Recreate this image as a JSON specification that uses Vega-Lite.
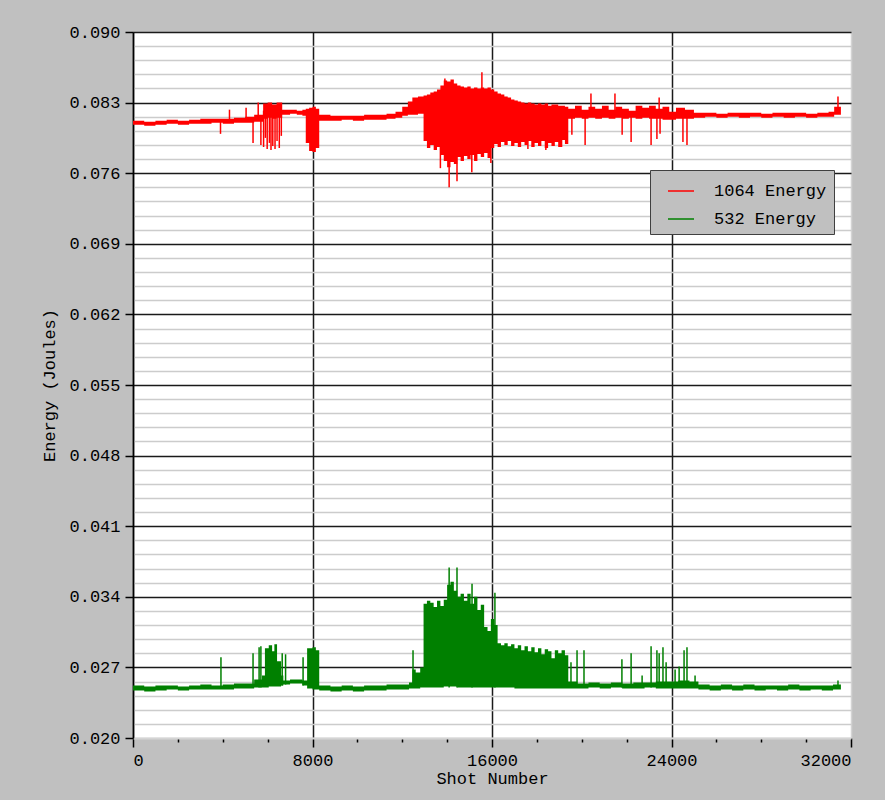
{
  "$schema": "https://vega.github.io/schema/vega-lite/v6.json",
  "width": 718,
  "height": 706,
  "autosize": "none",
  "padding": {"left": 133, "top": 32, "right": 34, "bottom": 62},
  "background": "#C0C0C0",
  "config": {
    "view": {"fill": "white", "stroke": null},
    "font": "Liberation Mono",
    "axis": {"labelFont": "Liberation Mono", "labelFontSize": 17, "labelColor": "#000000", "titleFont": "Liberation Mono", "titleFontSize": 17, "titleFontWeight": "normal", "titleColor": "#000000", "labelOverlap": false}
  },
  "datasets": {
    "env": [
      {"shot": 0, "lo": 0.0808, "hi": 0.0812, "series": "1064 Energy"},
      {"shot": 500, "lo": 0.0807, "hi": 0.0811, "series": "1064 Energy"},
      {"shot": 1000, "lo": 0.0808, "hi": 0.0812, "series": "1064 Energy"},
      {"shot": 1500, "lo": 0.0809, "hi": 0.0813, "series": "1064 Energy"},
      {"shot": 2000, "lo": 0.0808, "hi": 0.0812, "series": "1064 Energy"},
      {"shot": 2500, "lo": 0.0809, "hi": 0.0813, "series": "1064 Energy"},
      {"shot": 3000, "lo": 0.0809, "hi": 0.0814, "series": "1064 Energy"},
      {"shot": 3500, "lo": 0.081, "hi": 0.0814, "series": "1064 Energy"},
      {"shot": 4000, "lo": 0.0809, "hi": 0.0814, "series": "1064 Energy"},
      {"shot": 4500, "lo": 0.081, "hi": 0.0815, "series": "1064 Energy"},
      {"shot": 5000, "lo": 0.081, "hi": 0.0816, "series": "1064 Energy"},
      {"shot": 5400, "lo": 0.0811, "hi": 0.0818, "series": "1064 Energy"},
      {"shot": 5800, "lo": 0.0814, "hi": 0.0829, "series": "1064 Energy"},
      {"shot": 6000, "lo": 0.0815, "hi": 0.083, "series": "1064 Energy"},
      {"shot": 6200, "lo": 0.0814, "hi": 0.0828, "series": "1064 Energy"},
      {"shot": 6400, "lo": 0.0815, "hi": 0.083, "series": "1064 Energy"},
      {"shot": 6650, "lo": 0.0818, "hi": 0.0823, "series": "1064 Energy"},
      {"shot": 7000, "lo": 0.0819, "hi": 0.0823, "series": "1064 Energy"},
      {"shot": 7300, "lo": 0.0818, "hi": 0.0822, "series": "1064 Energy"},
      {"shot": 7550, "lo": 0.0817, "hi": 0.0823, "series": "1064 Energy"},
      {"shot": 7700, "lo": 0.079, "hi": 0.0824, "series": "1064 Energy"},
      {"shot": 7850, "lo": 0.0782, "hi": 0.0825, "series": "1064 Energy"},
      {"shot": 8000, "lo": 0.0781, "hi": 0.0826, "series": "1064 Energy"},
      {"shot": 8150, "lo": 0.0785, "hi": 0.0824, "series": "1064 Energy"},
      {"shot": 8300, "lo": 0.0812, "hi": 0.0818, "series": "1064 Energy"},
      {"shot": 8800, "lo": 0.0812, "hi": 0.0817, "series": "1064 Energy"},
      {"shot": 9300, "lo": 0.0813, "hi": 0.0817, "series": "1064 Energy"},
      {"shot": 9800, "lo": 0.0812, "hi": 0.0817, "series": "1064 Energy"},
      {"shot": 10300, "lo": 0.0813, "hi": 0.0818, "series": "1064 Energy"},
      {"shot": 10800, "lo": 0.0813, "hi": 0.0818, "series": "1064 Energy"},
      {"shot": 11300, "lo": 0.0814, "hi": 0.0819, "series": "1064 Energy"},
      {"shot": 11700, "lo": 0.0815, "hi": 0.0821, "series": "1064 Energy"},
      {"shot": 12000, "lo": 0.0817, "hi": 0.0826, "series": "1064 Energy"},
      {"shot": 12250, "lo": 0.0818, "hi": 0.0831, "series": "1064 Energy"},
      {"shot": 12450, "lo": 0.0818, "hi": 0.0835, "series": "1064 Energy"},
      {"shot": 12700, "lo": 0.0819, "hi": 0.0836, "series": "1064 Energy"},
      {"shot": 12950, "lo": 0.0792, "hi": 0.0837, "series": "1064 Energy"},
      {"shot": 13100, "lo": 0.0785, "hi": 0.0838, "series": "1064 Energy"},
      {"shot": 13250, "lo": 0.0788, "hi": 0.084, "series": "1064 Energy"},
      {"shot": 13400, "lo": 0.0783, "hi": 0.0841, "series": "1064 Energy"},
      {"shot": 13550, "lo": 0.0786, "hi": 0.0843, "series": "1064 Energy"},
      {"shot": 13700, "lo": 0.0778, "hi": 0.0847, "series": "1064 Energy"},
      {"shot": 13850, "lo": 0.0772, "hi": 0.0852, "series": "1064 Energy"},
      {"shot": 14000, "lo": 0.0766, "hi": 0.0851, "series": "1064 Energy"},
      {"shot": 14150, "lo": 0.0771, "hi": 0.0853, "series": "1064 Energy"},
      {"shot": 14300, "lo": 0.0769, "hi": 0.0849, "series": "1064 Energy"},
      {"shot": 14450, "lo": 0.0776, "hi": 0.0847, "series": "1064 Energy"},
      {"shot": 14600, "lo": 0.0772, "hi": 0.0846, "series": "1064 Energy"},
      {"shot": 14750, "lo": 0.0777, "hi": 0.0845, "series": "1064 Energy"},
      {"shot": 14900, "lo": 0.0774, "hi": 0.0846, "series": "1064 Energy"},
      {"shot": 15050, "lo": 0.0778, "hi": 0.0844, "series": "1064 Energy"},
      {"shot": 15200, "lo": 0.0772, "hi": 0.0845, "series": "1064 Energy"},
      {"shot": 15350, "lo": 0.0779, "hi": 0.0844, "series": "1064 Energy"},
      {"shot": 15500, "lo": 0.0776, "hi": 0.0845, "series": "1064 Energy"},
      {"shot": 15650, "lo": 0.078, "hi": 0.0844, "series": "1064 Energy"},
      {"shot": 15800, "lo": 0.0775, "hi": 0.0845, "series": "1064 Energy"},
      {"shot": 15950, "lo": 0.0785, "hi": 0.0843, "series": "1064 Energy"},
      {"shot": 16100, "lo": 0.0789, "hi": 0.0841, "series": "1064 Energy"},
      {"shot": 16250, "lo": 0.0786, "hi": 0.0839, "series": "1064 Energy"},
      {"shot": 16400, "lo": 0.0791, "hi": 0.0838, "series": "1064 Energy"},
      {"shot": 16550, "lo": 0.0788, "hi": 0.0836, "series": "1064 Energy"},
      {"shot": 16700, "lo": 0.0792, "hi": 0.0835, "series": "1064 Energy"},
      {"shot": 16850, "lo": 0.0787, "hi": 0.0833, "series": "1064 Energy"},
      {"shot": 17000, "lo": 0.079, "hi": 0.0832, "series": "1064 Energy"},
      {"shot": 17150, "lo": 0.0786, "hi": 0.0831, "series": "1064 Energy"},
      {"shot": 17300, "lo": 0.0791, "hi": 0.083, "series": "1064 Energy"},
      {"shot": 17450, "lo": 0.0788, "hi": 0.0829, "series": "1064 Energy"},
      {"shot": 17600, "lo": 0.0792, "hi": 0.083, "series": "1064 Energy"},
      {"shot": 17750, "lo": 0.0786, "hi": 0.0829, "series": "1064 Energy"},
      {"shot": 17900, "lo": 0.079, "hi": 0.0828, "series": "1064 Energy"},
      {"shot": 18050, "lo": 0.0787, "hi": 0.0829, "series": "1064 Energy"},
      {"shot": 18200, "lo": 0.0792, "hi": 0.0828, "series": "1064 Energy"},
      {"shot": 18350, "lo": 0.0785, "hi": 0.0829, "series": "1064 Energy"},
      {"shot": 18500, "lo": 0.079, "hi": 0.0827, "series": "1064 Energy"},
      {"shot": 18650, "lo": 0.0787, "hi": 0.0828, "series": "1064 Energy"},
      {"shot": 18800, "lo": 0.0791, "hi": 0.0828, "series": "1064 Energy"},
      {"shot": 18950, "lo": 0.0786, "hi": 0.0827, "series": "1064 Energy"},
      {"shot": 19100, "lo": 0.0793, "hi": 0.0827, "series": "1064 Energy"},
      {"shot": 19250, "lo": 0.0789, "hi": 0.0826, "series": "1064 Energy"},
      {"shot": 19400, "lo": 0.0814, "hi": 0.0824, "series": "1064 Energy"},
      {"shot": 19700, "lo": 0.0815, "hi": 0.0827, "series": "1064 Energy"},
      {"shot": 20000, "lo": 0.0814, "hi": 0.0823, "series": "1064 Energy"},
      {"shot": 20300, "lo": 0.0815, "hi": 0.0826, "series": "1064 Energy"},
      {"shot": 20600, "lo": 0.0814, "hi": 0.0824, "series": "1064 Energy"},
      {"shot": 20900, "lo": 0.0815, "hi": 0.0827, "series": "1064 Energy"},
      {"shot": 21200, "lo": 0.0814, "hi": 0.0823, "series": "1064 Energy"},
      {"shot": 21500, "lo": 0.0815, "hi": 0.0826, "series": "1064 Energy"},
      {"shot": 21800, "lo": 0.0814, "hi": 0.0824, "series": "1064 Energy"},
      {"shot": 22100, "lo": 0.0815, "hi": 0.0822, "series": "1064 Energy"},
      {"shot": 22400, "lo": 0.0814, "hi": 0.0827, "series": "1064 Energy"},
      {"shot": 22700, "lo": 0.0815, "hi": 0.0825, "series": "1064 Energy"},
      {"shot": 23000, "lo": 0.0814, "hi": 0.0827, "series": "1064 Energy"},
      {"shot": 23300, "lo": 0.0814, "hi": 0.0824, "series": "1064 Energy"},
      {"shot": 23600, "lo": 0.0813, "hi": 0.0826, "series": "1064 Energy"},
      {"shot": 23900, "lo": 0.0813, "hi": 0.0821, "series": "1064 Energy"},
      {"shot": 24200, "lo": 0.0814, "hi": 0.0825, "series": "1064 Energy"},
      {"shot": 24600, "lo": 0.0814, "hi": 0.0823, "series": "1064 Energy"},
      {"shot": 25000, "lo": 0.0815, "hi": 0.082, "series": "1064 Energy"},
      {"shot": 25500, "lo": 0.0816, "hi": 0.082, "series": "1064 Energy"},
      {"shot": 26000, "lo": 0.0815, "hi": 0.0819, "series": "1064 Energy"},
      {"shot": 26500, "lo": 0.0816, "hi": 0.082, "series": "1064 Energy"},
      {"shot": 27000, "lo": 0.0815, "hi": 0.082, "series": "1064 Energy"},
      {"shot": 27500, "lo": 0.0816, "hi": 0.082, "series": "1064 Energy"},
      {"shot": 28000, "lo": 0.0815, "hi": 0.0819, "series": "1064 Energy"},
      {"shot": 28500, "lo": 0.0816, "hi": 0.082, "series": "1064 Energy"},
      {"shot": 29000, "lo": 0.0815, "hi": 0.082, "series": "1064 Energy"},
      {"shot": 29500, "lo": 0.0816, "hi": 0.082, "series": "1064 Energy"},
      {"shot": 30000, "lo": 0.0815, "hi": 0.0819, "series": "1064 Energy"},
      {"shot": 30500, "lo": 0.0816, "hi": 0.082, "series": "1064 Energy"},
      {"shot": 31000, "lo": 0.0816, "hi": 0.0821, "series": "1064 Energy"},
      {"shot": 31250, "lo": 0.0818, "hi": 0.0826, "series": "1064 Energy"},
      {"shot": 31550, "lo": 0.0818, "hi": 0.0827, "series": "1064 Energy"},

      {"shot": 0, "lo": 0.0247, "hi": 0.0252, "series": "532 Energy"},
      {"shot": 500, "lo": 0.0246, "hi": 0.0251, "series": "532 Energy"},
      {"shot": 1000, "lo": 0.0247, "hi": 0.0252, "series": "532 Energy"},
      {"shot": 1500, "lo": 0.0248, "hi": 0.0252, "series": "532 Energy"},
      {"shot": 2000, "lo": 0.0247, "hi": 0.0251, "series": "532 Energy"},
      {"shot": 2500, "lo": 0.0248, "hi": 0.0252, "series": "532 Energy"},
      {"shot": 3000, "lo": 0.0248, "hi": 0.0253, "series": "532 Energy"},
      {"shot": 3500, "lo": 0.0248, "hi": 0.0252, "series": "532 Energy"},
      {"shot": 4000, "lo": 0.0248, "hi": 0.0253, "series": "532 Energy"},
      {"shot": 4500, "lo": 0.0249, "hi": 0.0254, "series": "532 Energy"},
      {"shot": 5000, "lo": 0.0249, "hi": 0.0254, "series": "532 Energy"},
      {"shot": 5400, "lo": 0.025, "hi": 0.0258, "series": "532 Energy"},
      {"shot": 5750, "lo": 0.025, "hi": 0.0262, "series": "532 Energy"},
      {"shot": 5880, "lo": 0.025, "hi": 0.0289, "series": "532 Energy"},
      {"shot": 6050, "lo": 0.0251, "hi": 0.0292, "series": "532 Energy"},
      {"shot": 6200, "lo": 0.0251, "hi": 0.0286, "series": "532 Energy"},
      {"shot": 6300, "lo": 0.0251, "hi": 0.0293, "series": "532 Energy"},
      {"shot": 6420, "lo": 0.0251, "hi": 0.0276, "series": "532 Energy"},
      {"shot": 6600, "lo": 0.0252, "hi": 0.0262, "series": "532 Energy"},
      {"shot": 6700, "lo": 0.0253, "hi": 0.0257, "series": "532 Energy"},
      {"shot": 7000, "lo": 0.0254, "hi": 0.0258, "series": "532 Energy"},
      {"shot": 7300, "lo": 0.0254, "hi": 0.0258, "series": "532 Energy"},
      {"shot": 7550, "lo": 0.0252, "hi": 0.0257, "series": "532 Energy"},
      {"shot": 7760, "lo": 0.0249, "hi": 0.0289, "series": "532 Energy"},
      {"shot": 8000, "lo": 0.0248, "hi": 0.029, "series": "532 Energy"},
      {"shot": 8150, "lo": 0.0248, "hi": 0.0287, "series": "532 Energy"},
      {"shot": 8300, "lo": 0.0247, "hi": 0.0252, "series": "532 Energy"},
      {"shot": 8800, "lo": 0.0246, "hi": 0.0251, "series": "532 Energy"},
      {"shot": 9300, "lo": 0.0247, "hi": 0.0252, "series": "532 Energy"},
      {"shot": 9800, "lo": 0.0246, "hi": 0.0251, "series": "532 Energy"},
      {"shot": 10300, "lo": 0.0247, "hi": 0.0252, "series": "532 Energy"},
      {"shot": 10800, "lo": 0.0247, "hi": 0.0252, "series": "532 Energy"},
      {"shot": 11300, "lo": 0.0248, "hi": 0.0253, "series": "532 Energy"},
      {"shot": 11800, "lo": 0.0248, "hi": 0.0253, "series": "532 Energy"},
      {"shot": 12300, "lo": 0.0249, "hi": 0.0255, "series": "532 Energy"},
      {"shot": 12450, "lo": 0.0249, "hi": 0.0268, "series": "532 Energy"},
      {"shot": 12600, "lo": 0.0249, "hi": 0.0265, "series": "532 Energy"},
      {"shot": 12800, "lo": 0.025, "hi": 0.027, "series": "532 Energy"},
      {"shot": 12950, "lo": 0.025, "hi": 0.0333, "series": "532 Energy"},
      {"shot": 13100, "lo": 0.025, "hi": 0.0336, "series": "532 Energy"},
      {"shot": 13250, "lo": 0.025, "hi": 0.0334, "series": "532 Energy"},
      {"shot": 13400, "lo": 0.025, "hi": 0.033, "series": "532 Energy"},
      {"shot": 13550, "lo": 0.025, "hi": 0.0336, "series": "532 Energy"},
      {"shot": 13700, "lo": 0.025, "hi": 0.0331, "series": "532 Energy"},
      {"shot": 13850, "lo": 0.0251, "hi": 0.0337, "series": "532 Energy"},
      {"shot": 14000, "lo": 0.0251, "hi": 0.0352, "series": "532 Energy"},
      {"shot": 14150, "lo": 0.0251, "hi": 0.0355, "series": "532 Energy"},
      {"shot": 14300, "lo": 0.0251, "hi": 0.0346, "series": "532 Energy"},
      {"shot": 14450, "lo": 0.025, "hi": 0.034, "series": "532 Energy"},
      {"shot": 14600, "lo": 0.025, "hi": 0.0343, "series": "532 Energy"},
      {"shot": 14750, "lo": 0.025, "hi": 0.0336, "series": "532 Energy"},
      {"shot": 14900, "lo": 0.025, "hi": 0.0343, "series": "532 Energy"},
      {"shot": 15050, "lo": 0.025, "hi": 0.0333, "series": "532 Energy"},
      {"shot": 15200, "lo": 0.025, "hi": 0.034, "series": "532 Energy"},
      {"shot": 15350, "lo": 0.025, "hi": 0.0327, "series": "532 Energy"},
      {"shot": 15500, "lo": 0.025, "hi": 0.0332, "series": "532 Energy"},
      {"shot": 15650, "lo": 0.025, "hi": 0.031, "series": "532 Energy"},
      {"shot": 15800, "lo": 0.025, "hi": 0.0306, "series": "532 Energy"},
      {"shot": 15950, "lo": 0.025, "hi": 0.0318, "series": "532 Energy"},
      {"shot": 16100, "lo": 0.025, "hi": 0.0312, "series": "532 Energy"},
      {"shot": 16250, "lo": 0.025, "hi": 0.0294, "series": "532 Energy"},
      {"shot": 16400, "lo": 0.025, "hi": 0.0292, "series": "532 Energy"},
      {"shot": 16550, "lo": 0.025, "hi": 0.0294, "series": "532 Energy"},
      {"shot": 16700, "lo": 0.025, "hi": 0.0291, "series": "532 Energy"},
      {"shot": 16850, "lo": 0.025, "hi": 0.0293, "series": "532 Energy"},
      {"shot": 17000, "lo": 0.0249, "hi": 0.0289, "series": "532 Energy"},
      {"shot": 17150, "lo": 0.0249, "hi": 0.0292, "series": "532 Energy"},
      {"shot": 17300, "lo": 0.0249, "hi": 0.0287, "series": "532 Energy"},
      {"shot": 17450, "lo": 0.0249, "hi": 0.0291, "series": "532 Energy"},
      {"shot": 17600, "lo": 0.0249, "hi": 0.0286, "series": "532 Energy"},
      {"shot": 17750, "lo": 0.0249, "hi": 0.029, "series": "532 Energy"},
      {"shot": 17900, "lo": 0.0249, "hi": 0.0285, "series": "532 Energy"},
      {"shot": 18050, "lo": 0.0249, "hi": 0.0289, "series": "532 Energy"},
      {"shot": 18200, "lo": 0.0249, "hi": 0.0283, "series": "532 Energy"},
      {"shot": 18350, "lo": 0.0249, "hi": 0.0288, "series": "532 Energy"},
      {"shot": 18500, "lo": 0.0249, "hi": 0.0286, "series": "532 Energy"},
      {"shot": 18650, "lo": 0.0249, "hi": 0.0279, "series": "532 Energy"},
      {"shot": 18800, "lo": 0.0249, "hi": 0.0287, "series": "532 Energy"},
      {"shot": 18950, "lo": 0.0249, "hi": 0.0284, "series": "532 Energy"},
      {"shot": 19100, "lo": 0.0249, "hi": 0.0287, "series": "532 Energy"},
      {"shot": 19250, "lo": 0.0249, "hi": 0.0282, "series": "532 Energy"},
      {"shot": 19400, "lo": 0.0249, "hi": 0.0256, "series": "532 Energy"},
      {"shot": 19800, "lo": 0.0249, "hi": 0.0254, "series": "532 Energy"},
      {"shot": 20300, "lo": 0.025, "hi": 0.0255, "series": "532 Energy"},
      {"shot": 20800, "lo": 0.0249, "hi": 0.0254, "series": "532 Energy"},
      {"shot": 21300, "lo": 0.025, "hi": 0.0255, "series": "532 Energy"},
      {"shot": 21800, "lo": 0.0249, "hi": 0.0254, "series": "532 Energy"},
      {"shot": 22300, "lo": 0.0249, "hi": 0.0255, "series": "532 Energy"},
      {"shot": 22800, "lo": 0.025, "hi": 0.0255, "series": "532 Energy"},
      {"shot": 23300, "lo": 0.0249, "hi": 0.0256, "series": "532 Energy"},
      {"shot": 23800, "lo": 0.0249, "hi": 0.0256, "series": "532 Energy"},
      {"shot": 24300, "lo": 0.0249, "hi": 0.0257, "series": "532 Energy"},
      {"shot": 24800, "lo": 0.0249, "hi": 0.0256, "series": "532 Energy"},
      {"shot": 25200, "lo": 0.0248, "hi": 0.0253, "series": "532 Energy"},
      {"shot": 25700, "lo": 0.0247, "hi": 0.0252, "series": "532 Energy"},
      {"shot": 26200, "lo": 0.0248, "hi": 0.0253, "series": "532 Energy"},
      {"shot": 26700, "lo": 0.0247, "hi": 0.0252, "series": "532 Energy"},
      {"shot": 27200, "lo": 0.0248, "hi": 0.0253, "series": "532 Energy"},
      {"shot": 27700, "lo": 0.0247, "hi": 0.0252, "series": "532 Energy"},
      {"shot": 28200, "lo": 0.0248, "hi": 0.0252, "series": "532 Energy"},
      {"shot": 28700, "lo": 0.0247, "hi": 0.0252, "series": "532 Energy"},
      {"shot": 29200, "lo": 0.0248, "hi": 0.0253, "series": "532 Energy"},
      {"shot": 29700, "lo": 0.0247, "hi": 0.0252, "series": "532 Energy"},
      {"shot": 30200, "lo": 0.0248, "hi": 0.0252, "series": "532 Energy"},
      {"shot": 30700, "lo": 0.0247, "hi": 0.0252, "series": "532 Energy"},
      {"shot": 31200, "lo": 0.0248, "hi": 0.0253, "series": "532 Energy"},
      {"shot": 31550, "lo": 0.0249, "hi": 0.0257, "series": "532 Energy"}
    ],
    "spikes": [
      {"shot": 3900, "lo": 0.0799, "hi": 0.0811, "series": "1064 Energy"},
      {"shot": 4300, "lo": 0.0811, "hi": 0.0823, "series": "1064 Energy"},
      {"shot": 5040, "lo": 0.0811, "hi": 0.0825, "series": "1064 Energy"},
      {"shot": 5350, "lo": 0.079, "hi": 0.0815, "series": "1064 Energy"},
      {"shot": 5580, "lo": 0.0812, "hi": 0.083, "series": "1064 Energy"},
      {"shot": 5700, "lo": 0.0788, "hi": 0.0815, "series": "1064 Energy"},
      {"shot": 5820, "lo": 0.0786, "hi": 0.0822, "series": "1064 Energy"},
      {"shot": 5900, "lo": 0.0795, "hi": 0.0822, "series": "1064 Energy"},
      {"shot": 5980, "lo": 0.0784, "hi": 0.0822, "series": "1064 Energy"},
      {"shot": 6080, "lo": 0.079, "hi": 0.0822, "series": "1064 Energy"},
      {"shot": 6150, "lo": 0.0783, "hi": 0.0822, "series": "1064 Energy"},
      {"shot": 6230, "lo": 0.0787, "hi": 0.0822, "series": "1064 Energy"},
      {"shot": 6330, "lo": 0.0784, "hi": 0.0822, "series": "1064 Energy"},
      {"shot": 6420, "lo": 0.0792, "hi": 0.0822, "series": "1064 Energy"},
      {"shot": 6520, "lo": 0.0785, "hi": 0.0822, "series": "1064 Energy"},
      {"shot": 6610, "lo": 0.0797, "hi": 0.0822, "series": "1064 Energy"},
      {"shot": 13700, "lo": 0.0765, "hi": 0.08, "series": "1064 Energy"},
      {"shot": 13900, "lo": 0.084, "hi": 0.0854, "series": "1064 Energy"},
      {"shot": 14090, "lo": 0.0746, "hi": 0.079, "series": "1064 Energy"},
      {"shot": 14440, "lo": 0.0752, "hi": 0.079, "series": "1064 Energy"},
      {"shot": 15100, "lo": 0.0761, "hi": 0.079, "series": "1064 Energy"},
      {"shot": 15550, "lo": 0.083, "hi": 0.086, "series": "1064 Energy"},
      {"shot": 15950, "lo": 0.077, "hi": 0.079, "series": "1064 Energy"},
      {"shot": 17600, "lo": 0.0784, "hi": 0.082, "series": "1064 Energy"},
      {"shot": 18400, "lo": 0.0783, "hi": 0.082, "series": "1064 Energy"},
      {"shot": 19100, "lo": 0.0786, "hi": 0.0826, "series": "1064 Energy"},
      {"shot": 19560, "lo": 0.0798, "hi": 0.0818, "series": "1064 Energy"},
      {"shot": 20150, "lo": 0.0788, "hi": 0.0818, "series": "1064 Energy"},
      {"shot": 20410, "lo": 0.0818, "hi": 0.0839, "series": "1064 Energy"},
      {"shot": 21480, "lo": 0.0818, "hi": 0.0839, "series": "1064 Energy"},
      {"shot": 21800, "lo": 0.0798, "hi": 0.0818, "series": "1064 Energy"},
      {"shot": 22200, "lo": 0.0791, "hi": 0.0818, "series": "1064 Energy"},
      {"shot": 23090, "lo": 0.0788, "hi": 0.0818, "series": "1064 Energy"},
      {"shot": 23350, "lo": 0.0794, "hi": 0.0818, "series": "1064 Energy"},
      {"shot": 23450, "lo": 0.0818, "hi": 0.0835, "series": "1064 Energy"},
      {"shot": 23490, "lo": 0.0799, "hi": 0.0818, "series": "1064 Energy"},
      {"shot": 24510, "lo": 0.0791, "hi": 0.0818, "series": "1064 Energy"},
      {"shot": 24690, "lo": 0.0788, "hi": 0.0818, "series": "1064 Energy"},
      {"shot": 31420, "lo": 0.082, "hi": 0.0836, "series": "1064 Energy"},

      {"shot": 3920, "lo": 0.025, "hi": 0.028, "series": "532 Energy"},
      {"shot": 5350, "lo": 0.025, "hi": 0.0284, "series": "532 Energy"},
      {"shot": 5620, "lo": 0.025, "hi": 0.029, "series": "532 Energy"},
      {"shot": 5700, "lo": 0.025, "hi": 0.0291, "series": "532 Energy"},
      {"shot": 6650, "lo": 0.0252, "hi": 0.0284, "series": "532 Energy"},
      {"shot": 6800, "lo": 0.0253, "hi": 0.0283, "series": "532 Energy"},
      {"shot": 7580, "lo": 0.0252, "hi": 0.028, "series": "532 Energy"},
      {"shot": 12480, "lo": 0.025, "hi": 0.0287, "series": "532 Energy"},
      {"shot": 14090, "lo": 0.025, "hi": 0.0369, "series": "532 Energy"},
      {"shot": 14440, "lo": 0.025, "hi": 0.0369, "series": "532 Energy"},
      {"shot": 15110, "lo": 0.025, "hi": 0.0353, "series": "532 Energy"},
      {"shot": 16130, "lo": 0.025, "hi": 0.0344, "series": "532 Energy"},
      {"shot": 19520, "lo": 0.025, "hi": 0.0275, "series": "532 Energy"},
      {"shot": 19790, "lo": 0.025, "hi": 0.0287, "series": "532 Energy"},
      {"shot": 20100, "lo": 0.025, "hi": 0.0287, "series": "532 Energy"},
      {"shot": 21790, "lo": 0.025, "hi": 0.0278, "series": "532 Energy"},
      {"shot": 22200, "lo": 0.025, "hi": 0.0284, "series": "532 Energy"},
      {"shot": 22690, "lo": 0.025, "hi": 0.0262, "series": "532 Energy"},
      {"shot": 23090, "lo": 0.025, "hi": 0.0291, "series": "532 Energy"},
      {"shot": 23350, "lo": 0.025, "hi": 0.0287, "series": "532 Energy"},
      {"shot": 23450, "lo": 0.025, "hi": 0.0284, "series": "532 Energy"},
      {"shot": 23620, "lo": 0.025, "hi": 0.029, "series": "532 Energy"},
      {"shot": 23760, "lo": 0.025, "hi": 0.0275, "series": "532 Energy"},
      {"shot": 24160, "lo": 0.025, "hi": 0.0268, "series": "532 Energy"},
      {"shot": 24340, "lo": 0.025, "hi": 0.0271, "series": "532 Energy"},
      {"shot": 24560, "lo": 0.025, "hi": 0.0287, "series": "532 Energy"},
      {"shot": 24690, "lo": 0.025, "hi": 0.029, "series": "532 Energy"},
      {"shot": 25050, "lo": 0.025, "hi": 0.0262, "series": "532 Energy"},
      {"shot": 31420, "lo": 0.025, "hi": 0.0257, "series": "532 Energy"}
    ]
  },
  "encoding": {
    "x": {
      "field": "shot", "type": "quantitative",
      "scale": {"domain": [0, 32000], "nice": false, "zero": false},
      "axis": {
        "title": "Shot Number",
        "values": [0, 2000, 4000, 6000, 8000, 10000, 12000, 14000, 16000, 18000, 20000, 22000, 24000, 26000, 28000, 30000, 32000],
        "tickCount": 40,
        "format": "d",
        "labelExpr": "datum.value % 8000 === 0 ? datum.label : ''",
        "grid": true,
        "gridColor": {"condition": {"test": "datum.value % 8000 === 0 && datum.value < 32000", "value": "#1a1a1a"}, "value": "#d4d4d4"},
        "gridOpacity": {"condition": {"test": "datum.value % 8000 === 0", "value": 1}, "value": 0},
        "gridWidth": 1.5,
        "tickSize": {"condition": {"test": "datum.value % 8000 === 0", "value": 9}, "value": 4},
        "tickColor": "#000000",
        "tickWidth": 1.5,
        "domainColor": "#d4d4d4",
        "domainWidth": 2,
        "labelPadding": 5,
        "titlePadding": 2
      }
    },
    "color": {
      "field": "series", "type": "nominal",
      "scale": {"domain": ["1064 Energy", "532 Energy"], "range": ["#FF0000", "#008000"]},
      "legend": {
        "title": null,
        "orient": "none",
        "legendX": 517,
        "legendY": 138,
        "fillColor": "#C0C0C0",
        "strokeColor": "#404040",
        "padding": 7,
        "symbolType": "stroke",
        "symbolSize": 676,
        "symbolStrokeWidth": 1.5,
        "symbolOffset": 10,
        "labelOffset": 19,
        "rowPadding": 6,
        "labelFont": "Liberation Mono",
        "labelFontSize": 17,
        "labelColor": "#000000",
        "encode": {"symbols": {"update": {"stroke": {"scale": "color", "field": "value"}, "fill": {"value": "transparent"}}}}
      }
    }
  },
  "layer": [
    {
      "data": {"name": "spikes"},
      "mark": {"type": "rule", "strokeWidth": 1.5},
      "encoding": {
        "y": {"field": "hi", "type": "quantitative", "scale": {"domain": [0.02, 0.09], "nice": false, "zero": false},
          "axis": {
            "title": "Energy (Joules)",
            "values": [0.02, 0.0214, 0.0228, 0.0242, 0.0256, 0.027, 0.0284, 0.0298, 0.0312, 0.0326, 0.034, 0.0354, 0.0368, 0.0382, 0.0396, 0.041, 0.0424, 0.0438, 0.0452, 0.0466, 0.048, 0.0494, 0.0508, 0.0522, 0.0536, 0.055, 0.0564, 0.0578, 0.0592, 0.0606, 0.062, 0.0634, 0.0648, 0.0662, 0.0676, 0.069, 0.0704, 0.0718, 0.0732, 0.0746, 0.076, 0.0774, 0.0788, 0.0802, 0.0816, 0.083, 0.0844, 0.0858, 0.0872, 0.0886, 0.09],
            "tickCount": 100,
            "format": ".3f",
            "labelExpr": "(round(datum.value * 10000) - 200) % 70 === 0 ? datum.label : ''",
            "grid": true,
            "gridColor": {"condition": {"test": "(round(datum.value * 10000) - 200) % 70 === 0 && datum.value > 0.021", "value": "#1a1a1a"}, "value": "#cccccc"},
            "gridWidth": 1.5,
            "tickOpacity": {"condition": {"test": "(round(datum.value * 10000) - 200) % 70 === 0", "value": 1}, "value": 0},
            "tickSize": 8,
            "tickColor": "#000000",
            "tickWidth": 1.5,
            "domainColor": "#000000",
            "domainWidth": 1.5,
            "labelPadding": 5,
            "titlePadding": 10
          }
        },
        "y2": {"field": "lo"}
      }
    },
    {
      "data": {"name": "env"},
      "mark": {"type": "area", "interpolate": "step-after", "opacity": 1},
      "encoding": {
        "y": {"field": "hi", "type": "quantitative"},
        "y2": {"field": "lo"}
      }
    }
  ]
}
